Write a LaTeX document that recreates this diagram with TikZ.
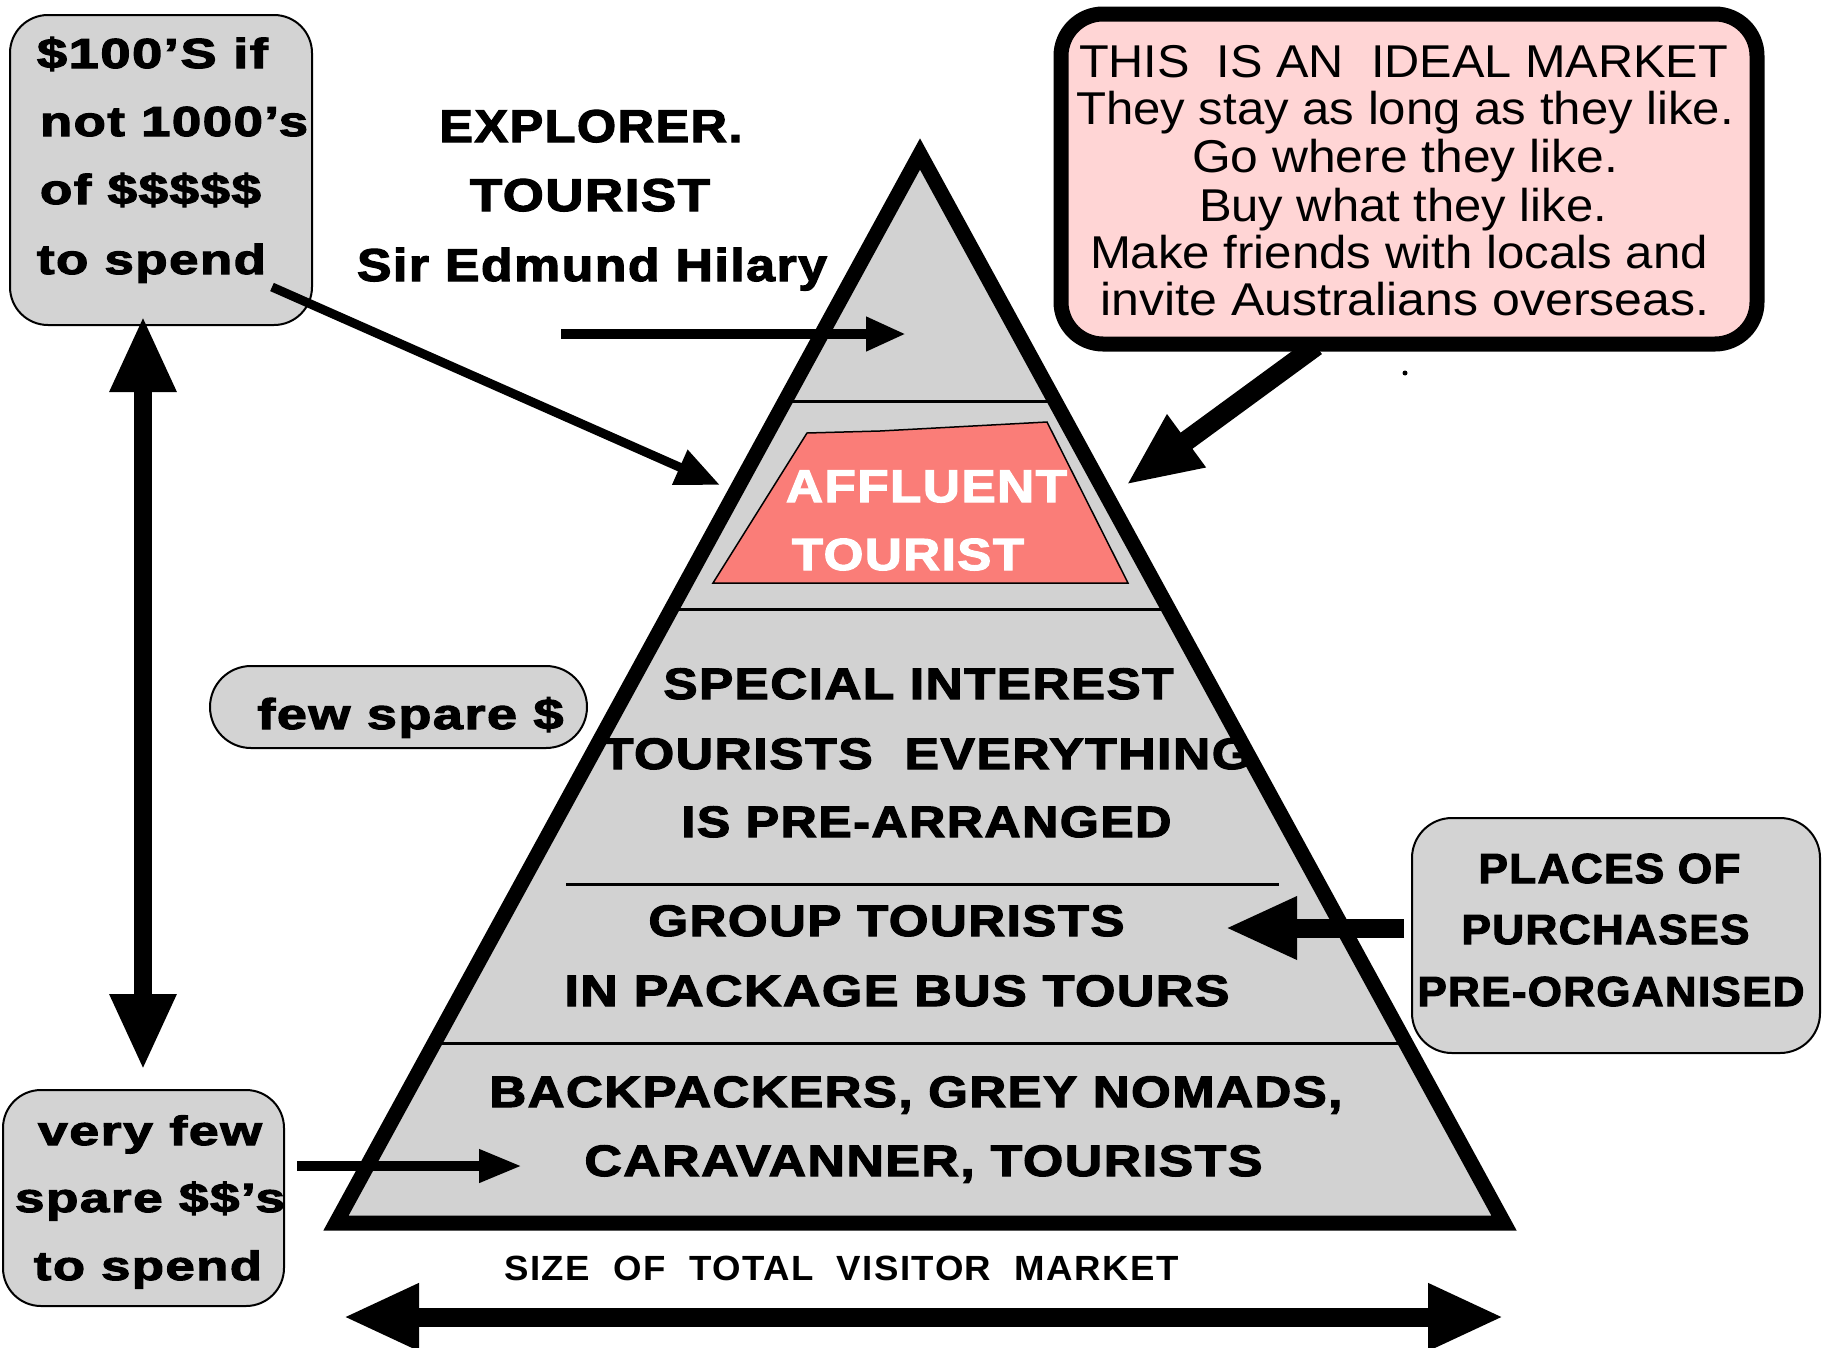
\documentclass[tikz,border=0pt]{standalone}
\usepackage{fontspec}
\usepackage{graphicx}
\usetikzlibrary{arrows.meta}
\setmainfont{Liberation Sans}
\newfontfamily\hb{Liberation Sans}[LetterSpace=3,FakeBold=2.5]
\newfontfamily\hbl{Liberation Sans}[LetterSpace=4]
\definecolor{boxgray}{RGB}{211,211,211}
\definecolor{pyrgray}{RGB}{210,210,210}
\definecolor{salmonc}{RGB}{250,125,120}
\definecolor{pinkc}{RGB}{255,213,213}
\newcommand\fitw[2]{\resizebox{#1pt}{\height}{#2}}
\newcommand\fsz[1]{\fontsize{#1}{#1}\selectfont}
\tikzset{
  bt/.style={inner sep=0pt, outer sep=0pt, anchor=base, font=\hb\bfseries\fsz{#1}},
  btl/.style={inner sep=0pt, outer sep=0pt, anchor=base west, font=\hb\bfseries\fsz{#1}},
  rt/.style={inner sep=0pt, outer sep=0pt, anchor=base, font=\rmfamily\fsz{#1}},
  gbox/.style={draw=black, line width=2pt, fill=boxgray, rounded corners=38pt, inner sep=0pt},
  arr/.style n args={3}{line width=#1pt, arrows={-Triangle[length=#2pt,width=#3pt]}},
  darr/.style n args={3}{line width=#1pt, arrows={Triangle[length=#2pt,width=#3pt]-Triangle[length=#2pt,width=#3pt]}},
  divider/.style={line width=3pt},
}
\begin{document}
\begin{tikzpicture}[x=1pt,y=-1pt]
\useasboundingbox (0,0) rectangle (1822,1347);

% ---------- pyramid body ----------
\coordinate (apex) at (920,154);
\coordinate (bl) at (336,1223);
\coordinate (br) at (1504,1223);
\fill[pyrgray] (apex) -- (bl) -- (br) -- cycle;
\draw[divider] (784,401) -- (1056,401);
\draw[divider] (671,609) -- (1169,609);
\draw[divider] (566,884) -- (1279,884);
\draw[divider] (434,1043) -- (1406,1043);
\draw[line width=1.5pt, fill=salmonc] (713,583) -- (807,433) -- (880,431) -- (1047,422) -- (1128,583) -- cycle;

\node[btl=46, text=white] (af1) at (786,502) {\fitw{281}{AFFLUENT}};
\node[btl=45, text=white] (af2) at (792,570) {\fitw{232}{TOURIST}};

\node[bt=44] (p1) at (918.5,699) {\fitw{510}{SPECIAL INTEREST}};
\node[bt=44] (p2) at (927,769) {\fitw{650}{TOURISTS\ \ EVERYTHING}};
\node[bt=44] (p3) at (926.5,837) {\fitw{490}{IS PRE-ARRANGED}};
\node[bt=44] (p4) at (886.5,936) {\fitw{476}{GROUP TOURISTS}};
\node[bt=44] (p5) at (897,1006) {\fitw{665}{IN PACKAGE BUS TOURS}};
\node[bt=44] (p6) at (916,1107) {\fitw{853}{BACKPACKERS, GREY NOMADS,}};
\node[bt=44] (p7) at (923.5,1176) {\fitw{678}{CARAVANNER, TOURISTS}};

\draw[line width=15pt, line join=miter] (apex) -- (bl) -- (br) -- cycle;

% ---------- box 1 ----------
\node[gbox, minimum width=302pt, minimum height=310pt] (bxa) at (161,170) {};
\node[btl=42] (bxa1) at (37,68) {\fitw{231}{\$100’S if}};
\node[btl=42] (bxa2) at (40,136) {\fitw{268}{not 1000’s}};
\node[btl=42] (bxa3) at (40,204) {\fitw{221}{of \$\$\$\$\$}};
\node[btl=42] (bxa4) at (37,274) {\fitw{229}{to spend}};

% ---------- explorer ----------
\node[bt=46] (ex1) at (591,142) {\fitw{303}{EXPLORER.}};
\node[bt=46] (ex2) at (590,211) {\fitw{240}{TOURIST}};
\node[bt=46] (ex3) at (592,281) {\fitw{470}{Sir Edmund Hilary}};

% ---------- few spare ----------
\node[gbox, rounded corners=41pt, minimum width=377pt, minimum height=82pt] (fs) at (398.5,707) {};
\node[bt=43] (fst) at (410.5,729) {\fitw{306}{few spare \$}};

% ---------- very few ----------
\node[gbox, minimum width=281pt, minimum height=216pt] (vf) at (143.5,1198) {};
\node[bt=41] (vf1) at (150,1145) {\fitw{224}{very few}};
\node[bt=41] (vf2) at (150,1212) {\fitw{270}{spare \$\$’s}};
\node[bt=41] (vf3) at (148,1280) {\fitw{228}{to spend}};

% ---------- places ----------
\node[gbox, rounded corners=40pt, minimum width=408pt, minimum height=235pt] (pl) at (1616,935.5) {};
\node[bt=42] (pl1) at (1609.5,883) {\fitw{262}{PLACES OF}};
\node[bt=42] (pl2) at (1605.5,944) {\fitw{288}{PURCHASES}};
\node[bt=42] (pl3) at (1611,1006) {\fitw{387}{PRE-ORGANISED}};

% ---------- size label ----------
\node[inner sep=0pt, anchor=base, font=\hbl\bfseries\fsz{35}] (sz) at (841.5,1280) {\fitw{674}{SIZE\ \ OF\ \ TOTAL\ \ VISITOR\ \ MARKET}};

% ---------- callout ----------
\node[draw, line width=15pt, fill=pinkc, rounded corners=42pt, minimum width=696pt, minimum height=330pt, inner sep=0pt] (cb) at (1409,179) {};
\node[rt=46] (c1) at (1403.5,77) {\fitw{649}{THIS\ \ IS AN\ \ IDEAL MARKET}};
\node[rt=46] (c2) at (1405,124) {\fitw{658}{They stay as long as they like.}};
\node[rt=46] (c3) at (1405,172) {\fitw{426}{Go where they like.}};
\node[rt=46] (c4) at (1403,221) {\fitw{408}{Buy what they like.}};
\node[rt=46] (c5) at (1399,268) {\fitw{618}{Make friends with locals and}};
\node[rt=46] (c6) at (1405,315) {\fitw{609}{invite Australians overseas.}};

% ---------- arrows ----------
\coordinate (ea0) at (561,334);
\coordinate (ea1) at (906,334);
\draw[arr={10}{40}{32}] (ea0) -- (ea1);

\coordinate (ba0) at (272,287);
\coordinate (ba1) at (720,485);
\draw[arr={9}{44}{36}] (ba0) -- (ba1);

\coordinate (va0) at (143,316);
\coordinate (va1) at (143,1070);
\draw[darr={18}{76}{62}] (va0) -- (va1);

\coordinate (vfa0) at (297,1166);
\coordinate (vfa1) at (522,1166);
\draw[arr={10}{43}{31}] (vfa0) -- (vfa1);

\coordinate (pla0) at (1404,928);
\coordinate (pla1) at (1225,928);
\draw[arr={19}{72}{58}] (pla0) -- (pla1);

\coordinate (cba0) at (1316,346);
\coordinate (cba1) at (1126,485);
\draw[arr={20}{75}{60}] (cba0) -- (cba1);

\coordinate (sza0) at (343,1317);
\coordinate (sza1) at (1504,1317);
\draw[darr={19}{76}{62}] (sza0) -- (sza1);

\fill (1405,373) circle (2.5);
\end{tikzpicture}
\end{document}
